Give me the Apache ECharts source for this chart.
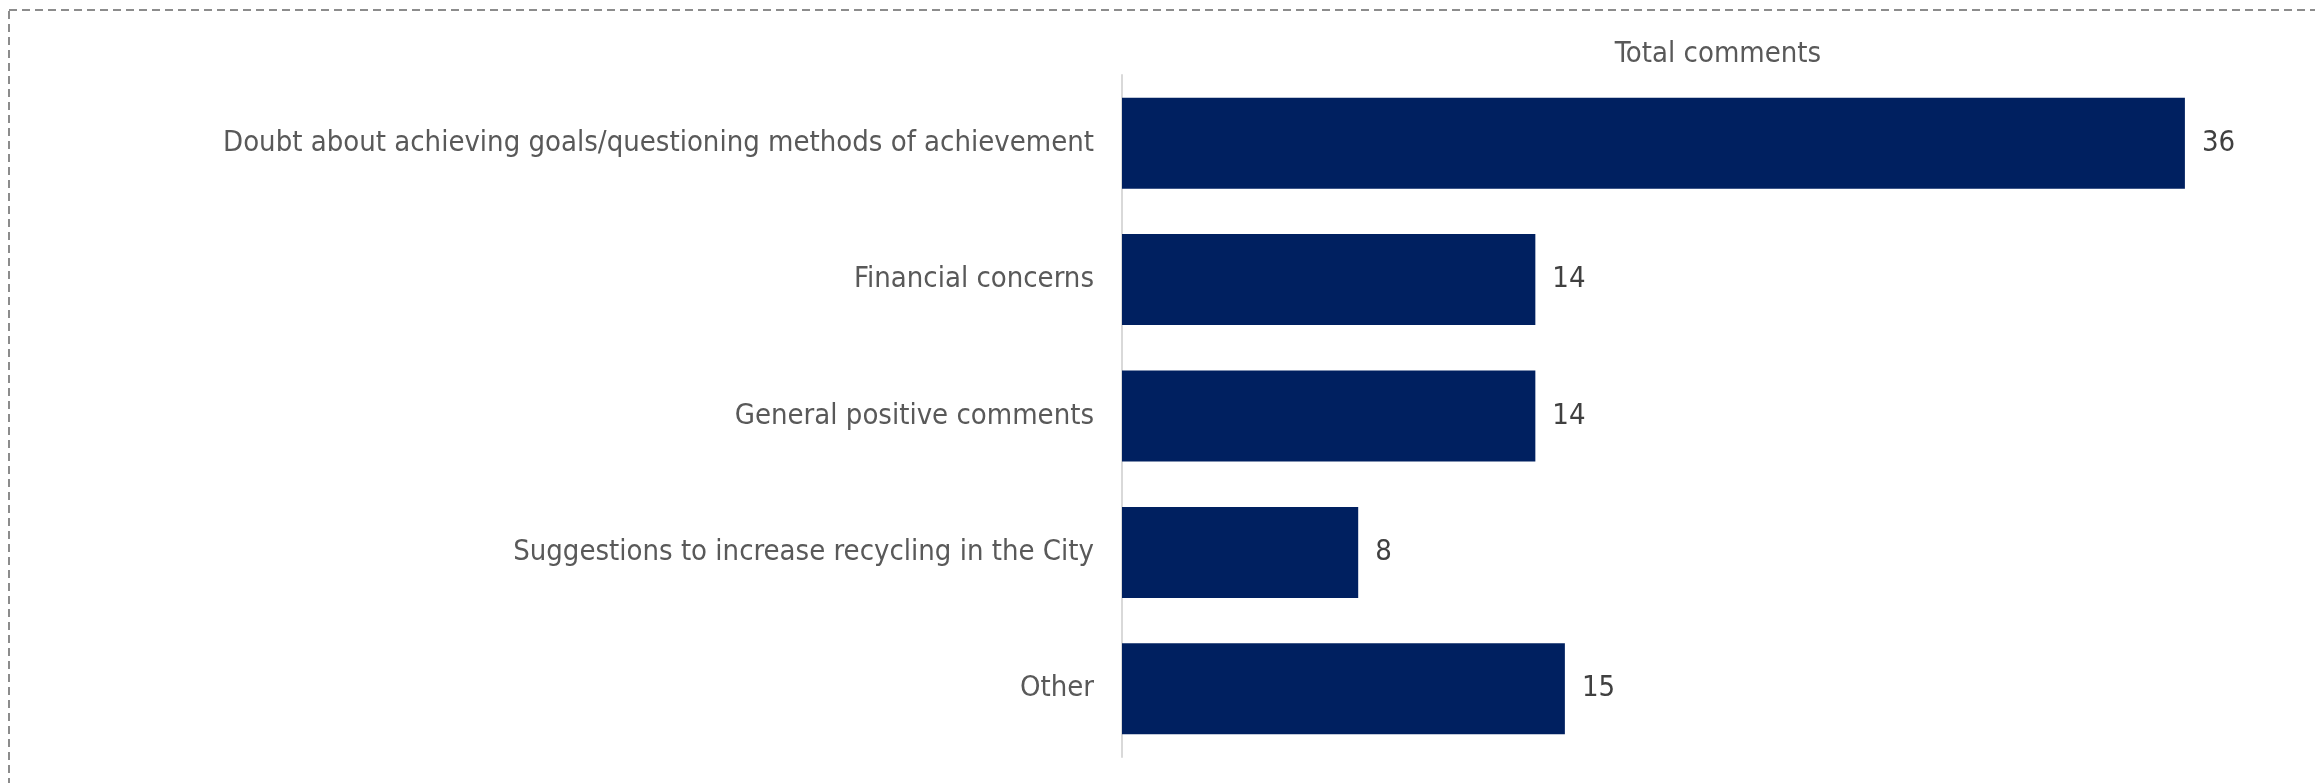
<!DOCTYPE html>
<html><head><meta charset="utf-8">
<script src="https://cdn.jsdelivr.net/npm/echarts@6/dist/echarts.min.js"></script>
<style>html,body{margin:0;padding:0;background:#fff}#c{width:2315px;height:783px}</style>
</head><body><div id="c"></div>
<script>
const categories = [
  "Doubt about achieving goals/questioning methods of achievement",
  "Financial concerns",
  "General positive comments",
  "Suggestions to increase recycling in the City",
  "Other"
];
const totalComments = [36, 14, 14, 8, 15];
const seriesName = "Total comments";

const FONT = "'DejaVu Sans Condensed', 'Liberation Sans Narrow', sans-serif";
const chart = echarts.init(document.getElementById('c'), null, {renderer: 'canvas'});
chart.setOption({
  animation: false,
  backgroundColor: '#ffffff',
  graphic: [{
    type: 'rect', silent: true,
    shape: {x: 9, y: 10, width: 2400, height: 900},
    style: {fill: 'none', stroke: '#8c8c8c', lineWidth: 2, lineDash: [8, 5]}
  }],
  title: {
    text: seriesName, left: 1713, top: 35, textAlign: 'center',
    textStyle: {fontFamily: FONT, fontSize: 29, fontWeight: 'normal', color: '#595959'}
  },
  grid: {left: 1122, top: 75, width: 1181, height: 682, containLabel: false},
  xAxis: {
    type: 'value', min: 0, max: 40, show: false
  },
  yAxis: {
    type: 'category', inverse: true, data: categories,
    axisLine: {show: true, lineStyle: {color: '#d9d9d9', width: 2}},
    axisTick: {show: false},
    axisLabel: {margin: 28, fontFamily: FONT, fontSize: 29, color: '#595959'}
  },
  series: [{
    name: seriesName, type: 'bar', data: totalComments,
    barCategoryGap: '33.3%',
    itemStyle: {color: '#002060'},
    label: {show: true, position: 'right', distance: 17, fontFamily: FONT, fontSize: 29, color: '#404040'}
  }]
});
</script></body></html>
